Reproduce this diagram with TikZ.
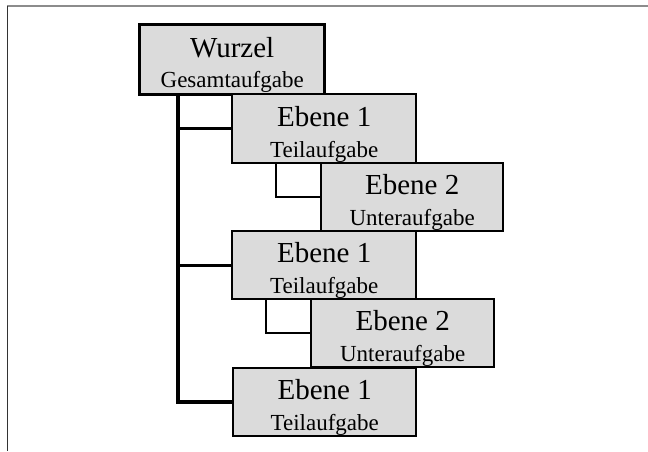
\documentclass[tikz,border=0pt]{standalone}
\usepackage{fontspec}
\setmainfont{Liberation Serif}
\usetikzlibrary{calc}
\definecolor{kasten}{gray}{0.86}
\tikzset{
	aufgabe/.style={draw, fill=kasten, line width=2.4pt, inner sep=0pt, anchor=north west, minimum height=68pt},
	titel/.style={anchor=base, inner sep=0pt, font=\fontsize{29}{29}\selectfont},
	zusatz/.style={anchor=base, inner sep=0pt, font=\fontsize{23}{23}\selectfont},
	stamm/.style={line width=3.6pt},
	ast/.style={line width=2.6pt},
	unterast/.style={line width=2pt}
}

\begin{document}
\begin{tikzpicture}[x=1pt, y=-1pt]
	\useasboundingbox (0,0) rectangle (648,451);
	\draw[black!45, line width=2pt] (7,6) -- (648,6);
	\draw[black!80, line width=1pt] (7,6) -- (7,451);

	% Kaesten
	\node[aufgabe, minimum width=185pt, minimum height=70pt, line width=3.4pt] (W) at (138,23) {};
	\node[aufgabe, minimum width=184pt, minimum height=69pt] (E1a) at (231,93) {};
	\node[aufgabe, minimum width=182pt] (E2a) at (320,162) {};
	\node[aufgabe, minimum width=184pt] (E1b) at (231,230) {};
	\node[aufgabe, minimum width=183pt] (E2b) at (310,298) {};
	\node[aufgabe, minimum width=183pt] (E1c) at (232,367) {};

	% Texte
	\node[titel]  (Wt)   at ($(W.north)+(0,34)$)   {Wurzel};
	\node[zusatz] (Ws)   at ($(W.north)+(0,64)$)   {Gesamtaufgabe};
	\node[titel]  (E1at) at ($(E1a.north)+(0,33)$) {Ebene 1};
	\node[zusatz] (E1as) at ($(E1a.north)+(0,64)$) {Teilaufgabe};
	\node[titel]  (E2at) at ($(E2a.north)+(0,32)$) {Ebene 2};
	\node[zusatz] (E2as) at ($(E2a.north)+(0,63)$) {Unteraufgabe};
	\node[titel]  (E1bt) at ($(E1b.north)+(0,32)$) {Ebene 1};
	\node[zusatz] (E1bs) at ($(E1b.north)+(0,63)$) {Teilaufgabe};
	\node[titel]  (E2bt) at ($(E2b.north)+(0,32)$) {Ebene 2};
	\node[zusatz] (E2bs) at ($(E2b.north)+(0,63)$) {Unteraufgabe};
	\node[titel]  (E1ct) at ($(E1c.north)+(0,32)$) {Ebene 1};
	\node[zusatz] (E1cs) at ($(E1c.north)+(0,63)$) {Teilaufgabe};

	% Verbindungen
	\coordinate (s) at ($(W.south west)+(40,0)$);
	\draw[stamm] (s) |- (E1c.west);
	\draw[ast] (s |- E1a.west) -- (E1a.west);
	\draw[ast] (s |- E1b.west) -- (E1b.west);
	\draw[unterast] ($(E1a.south west)+(45,0)$) |- (E2a.west);
	\draw[unterast] ($(E1b.south west)+(35,0)$) |- (E2b.west);
\end{tikzpicture}
\end{document}
